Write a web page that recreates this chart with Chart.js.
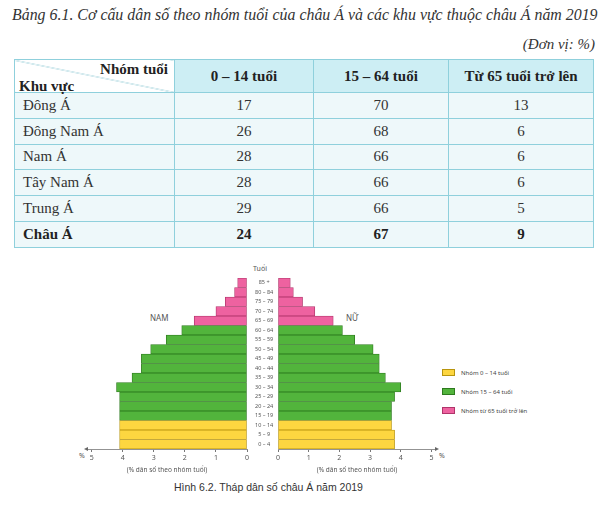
<!DOCTYPE html>
<html lang="vi">
<head>
<meta charset="utf-8">
<script src="https://cdn.jsdelivr.net/npm/chart.js@4.4.0/dist/chart.umd.min.js"></script>
<style>
  body { margin: 0; width: 608px; height: 506px; background: #fff; position: relative; overflow: hidden; font-family: 'Liberation Serif', serif; color: #333; }
  .abs { position: absolute; white-space: nowrap; }
  #title { left: 12px; top: 6px; font-style: italic; font-size: 15.9px; }
  #unit { right: 13px; top: 36px; font-style: italic; font-size: 15px; }
  #tbl { position: absolute; left: 14px; top: 59px; border-collapse: collapse; table-layout: fixed; font-size: 15px; }
  #tbl td { border: 1px solid #8fd0dc; padding: 0; text-align: center; height: 24.8px; background: #eef8fa; }
  #tbl tr.head td { height: 32px; background: #cdeef4; font-weight: bold; color: #222; }
  #tbl td.reg { text-align: left; padding-left: 8px; }
  #tbl tr.total td { font-weight: bold; color: #222; }
  #corner { position: relative; background: linear-gradient(to top right, transparent calc(50% - 0.6px), #8fc9d4 50%, transparent calc(50% + 0.6px)) !important; }
  #corner span { position: absolute; }
  .lbl { font-family: 'Noto Sans', sans-serif; color: #555; }
  #legend { position: absolute; left: 442px; top: 369px; font-family: 'Noto Sans', sans-serif; font-size: 6px; color: #444; }
  #legend div { height: 19px; display: flex; align-items: flex-start; }
  #legend i { display: inline-block; width: 13px; height: 7px; margin-right: 6px; box-sizing: border-box; }
  #legend span { line-height: 8px; }
</style>
</head>
<body>
<div id="title" class="abs">Bảng 6.1. Cơ cấu dân số theo nhóm tuổi của châu Á và các khu vực thuộc châu Á năm 2019</div>
<div id="unit" class="abs">(Đơn vị: %)</div>
<table id="tbl"></table>

<div class="abs lbl" style="left:249px; top:264px; font-size:7px; width:22px; text-align:center;">Tuổi</div>
<div class="abs lbl" style="left:150px; top:312px; font-size:8px;">NAM</div>
<div class="abs lbl" style="left:346px; top:312px; font-size:8px;">NỮ</div>
<div class="abs lbl" style="left:79px; top:451px; font-size:7px;">%</div>
<div class="abs lbl" style="left:439px; top:451px; font-size:7px;">%</div>
<div id="legend"></div>
<div class="abs lbl" style="left:174px; top:481px; font-size:10.5px; font-family:'Liberation Sans', sans-serif; color:#333;">Hình 6.2. Tháp dân số châu Á năm 2019</div>

<div class="abs" style="left:60px; top:262px; width:214px; height:212px;"><canvas id="maleChart"></canvas></div>
<div class="abs" style="left:274px; top:262px; width:170px; height:212px;"><canvas id="femaleChart"></canvas></div>

<script>
// Bảng 6.1
const regions = ['Đông Á', 'Đông Nam Á', 'Nam Á', 'Tây Nam Á', 'Trung Á', 'Châu Á'];
const share0to14 = [17, 26, 28, 28, 29, 24];
const share15to64 = [70, 68, 66, 66, 66, 67];
const share65plus = [13, 6, 6, 6, 5, 9];
const tableHeads = ['0 – 14 tuổi', '15 – 64 tuổi', 'Từ 65 tuổi trở lên'];

// Hình 6.2 - tháp dân số
const ageGroups = ['85 +', '80 – 84', '75 – 79', '70 – 74', '65 – 69', '60 – 64', '55 – 59', '50 – 54', '45 – 49',
                   '40 – 44', '35 – 39', '30 – 34', '25 – 29', '20 – 24', '15 – 19', '10 – 14', '5 – 9', '0 – 4'];
const maleValues   = [0.3, 0.4, 0.7, 1.0, 1.7, 2.1, 2.6, 3.1, 3.4, 3.4, 3.7, 4.2, 4.1, 4.1, 4.1, 4.1, 4.1, 4.1];
const femaleValues = [0.4, 0.5, 0.8, 1.2, 1.8, 2.1, 2.5, 3.1, 3.3, 3.3, 3.5, 4.0, 3.8, 3.7, 3.7, 3.7, 3.8, 3.8];
const rowGroup     = [2, 2, 2, 2, 2, 1, 1, 1, 1, 1, 1, 1, 1, 1, 1, 0, 0, 0];
const groupLabels  = ['Nhóm 0 – 14 tuổi', 'Nhóm 15 – 64 tuổi', 'Nhóm từ 65 tuổi trở lên'];
const groupColors  = ['#fdd640', '#52b43c', '#ee62a0'];
const groupBorders = ['#b8950e', '#2d7a1e', '#b0346a'];
const xTicks = [0, 1, 2, 3, 4, 5];

function buildTable() {
    let html = '<colgroup><col style="width:160px"><col style="width:139px"><col style="width:135px"><col style="width:145px"></colgroup>';
    html += '<tr class="head"><td id="corner"><span style="right:6px; top:1px;">Nhóm tuổi</span>' +
            '<span style="left:4px; top:18px;">Khu vực</span></td>';
    tableHeads.forEach( function( h ) { html += '<td>' + h + '</td>'; } );
    html += '</tr>';
    regions.forEach( function( r, i ) {
        let cls = ( i === regions.length - 1 ) ? ' class="total"' : '';
        html += '<tr' + cls + '><td class="reg">' + r + '</td><td>' + share0to14[i] + '</td><td>' +
                share15to64[i] + '</td><td>' + share65plus[i] + '</td></tr>';
    } );
    document.getElementById( 'tbl' ).innerHTML = html;
}

function buildLegend() {
    let html = '';
    groupLabels.forEach( function( g, i ) {
        html += '<div><i style="background:' + groupColors[i] + '; border:1px solid ' + groupBorders[i] + '"></i><span>' + g + '</span></div>';
    } );
    document.getElementById( 'legend' ).innerHTML = html;
}

const axisArrow = {
    id: 'axisArrow',
    afterDraw( chart, args, opts ) {
        const a = chart.chartArea, ctx = chart.ctx;
        const d = opts.side === 'left' ? -1 : 1;
        const x = d < 0 ? a.left : a.right;
        ctx.save();
        ctx.fillStyle = '#666';
        ctx.beginPath();
        ctx.moveTo( x + d * 3, a.bottom );
        ctx.lineTo( x - d * 1, a.bottom - 2 );
        ctx.lineTo( x - d * 1, a.bottom + 2 );
        ctx.fill();
        ctx.restore();
    }
};

function pyramidSide( canvasId, values, side ) {
    const isLeft = side === 'left';
    let yAxis = {
        display: isLeft,
        position: 'right',
        grid: { display: false },
        border: { display: false },
        ticks: { font: { family: 'Noto Sans', size: 5.5 }, color: '#555', padding: 0, crossAlign: 'center', autoSkip: false },
    };
    if ( isLeft ) yAxis.afterFit = s => { s.width = 27; };

    let ctx = document.getElementById( canvasId ).getContext( '2d' );
    return new Chart( ctx, {
        type: 'bar',
        data: {
            labels: ageGroups,
            datasets: [ {
                data: values,
                backgroundColor: rowGroup.map( g => groupColors[ g ] ),
                borderColor: rowGroup.map( g => groupBorders[ g ] ),
                borderWidth: 0.8,
                borderSkipped: false,
                barPercentage: 1,
                categoryPercentage: 1,
            } ],
        },
        plugins: [ axisArrow ],
        options: {
            indexAxis: 'y',
            responsive: true,
            maintainAspectRatio: false,
            animation: false,
            layout: { padding: { top: 16, left: isLeft ? 27 : 0, right: isLeft ? 0 : 8, bottom: 0 } },
            plugins: {
                legend: { display: false },
                tooltip: { enabled: false },
                axisArrow: { side: side },
            },
            scales: {
                x: {
                    reverse: isLeft,
                    min: 0,
                    max: 5.15,
                    afterBuildTicks: s => { s.ticks = xTicks.map( v => ( { value: v } ) ); },
                    afterFit: s => { s.height = 25; },
                    grid: { drawOnChartArea: false, drawTicks: true, tickLength: 3, color: '#777' },
                    border: { display: true, color: '#777', width: 0.8 },
                    ticks: { font: { family: 'Noto Sans', size: 7 }, color: '#555', padding: 2 },
                    title: { display: true, text: '(% dân số theo nhóm tuổi)', font: { family: 'Noto Sans', size: 6.5 }, color: '#555', padding: { top: 1, bottom: 0 } },
                },
                y: yAxis,
            },
        },
    } );
}

buildTable();
buildLegend();
pyramidSide( 'maleChart', maleValues, 'left' );
pyramidSide( 'femaleChart', femaleValues, 'right' );
</script>
</body>
</html>
